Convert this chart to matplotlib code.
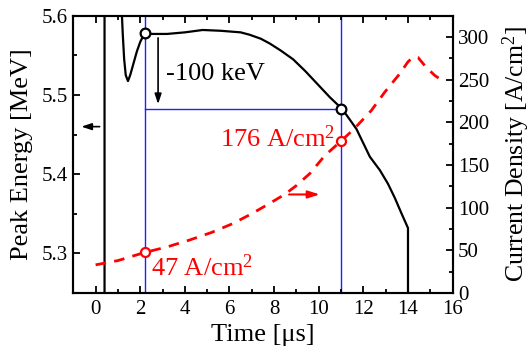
import matplotlib
matplotlib.use("Agg")
import matplotlib.pyplot as plt
from matplotlib.ticker import MultipleLocator

plt.rcParams['font.family'] = ['Liberation Serif', 'DejaVu Serif']
plt.rcParams['mathtext.fontset'] = 'custom'
plt.rcParams['mathtext.rm'] = 'Liberation Serif'
plt.rcParams['mathtext.it'] = 'Liberation Serif:italic'

# Peak energy (left axis)
t_energy = [0.40, 0.40, 0.8, 1.15, 1.18, 1.22, 1.28, 1.35, 1.45, 1.55, 1.70, 1.85, 2.00, 2.20,
            2.5, 3.2, 4.0, 4.8, 5.6, 6.5, 6.9, 7.4, 7.8, 8.3, 8.85, 9.4, 10.0, 10.5, 11.06,
            11.69, 12.29, 12.74, 13.1, 13.41, 13.7, 14.0, 14.0]
energy = [5.20, 5.70, 5.75, 5.65, 5.600, 5.575, 5.545, 5.525, 5.5175, 5.525, 5.540, 5.555, 5.567, 5.578,
          5.577, 5.577, 5.579, 5.582, 5.581, 5.579, 5.576, 5.571, 5.565, 5.556, 5.545, 5.530, 5.512, 5.497, 5.482,
          5.457, 5.422, 5.405, 5.388, 5.370, 5.351, 5.332, 5.20]

# Current density (right axis)
t_current = [0.0, 1.0, 2.2, 3.2, 4.2, 5.2, 6.16, 7.0, 7.8, 8.5, 9.0, 9.6, 10.27, 11.02,
             11.6, 12.36, 12.96, 13.63, 14.0, 14.23, 14.45, 14.8, 15.2, 15.65]
current = [33, 38, 47.5, 54, 62, 71, 81.5, 93, 105, 116, 126, 140, 161, 178.6,
           192.7, 214, 235.5, 257, 271, 276.5, 276, 265, 255, 247]

mark_t = [2.2, 11.0]
mark_energy = [5.578, 5.482]
mark_current = [47.5, 178.6]
level_energy = 5.482

fig = plt.figure(figsize=(5.30, 3.54), dpi=100)
ax = fig.add_axes([0.1383, 0.1723, 0.7157, 0.7833])
ax2 = ax.twinx()

blue = '#1f1fff'
for t in mark_t:
    ax.axvline(t, color=blue, lw=1.0, zorder=1)
ax.plot([mark_t[0], mark_t[1]], [level_energy, level_energy], color=blue, lw=1.0, zorder=1)

ax.plot(t_energy, energy, color='black', lw=1.6, zorder=3)
ax.plot(mark_t, mark_energy, 'o', ms=7, mfc='white', mec='black', mew=1.6, zorder=4)

ax2.plot(t_current, current, color='red', lw=2.0, dashes=(3.8, 3.0), zorder=3)
ax2.plot(mark_t, mark_current, 'o', ms=6.5, mfc='white', mec='red', mew=1.6, zorder=4)

ax.set_xlim(-1, 16)
ax.set_ylim(5.25, 5.6)
ax2.set_ylim(0, 325)

# arrows
ax.annotate('', xy=(2.8, 5.4884), xytext=(2.8, 5.572),
            arrowprops=dict(arrowstyle='-|>,head_length=0.6,head_width=0.2', color='black', lw=1.2,
                            shrinkA=0, shrinkB=0))
ax.annotate('', xy=(-0.64, 5.46), xytext=(0.18, 5.46),
            arrowprops=dict(arrowstyle='-|>,head_length=0.6,head_width=0.2', color='black', lw=1.2,
                            shrinkA=0, shrinkB=0))
ax2.annotate('', xy=(10.05, 115.5), xytext=(8.67, 115.5),
             arrowprops=dict(arrowstyle='-|>,head_length=0.7,head_width=0.22', color='red', lw=1.5,
                             shrinkA=0, shrinkB=0))

ax.text(3.15, 5.526, '-100 keV', fontsize=19, ha='left', va='center', color='black')
ax.text(5.56, 5.435, '176 A/cm$^2$', fontsize=19, ha='left', va='baseline', color='red')
ax.text(2.47, 5.272, '47 A/cm$^2$', fontsize=19, ha='left', va='baseline', color='red')

ax.xaxis.set_major_locator(MultipleLocator(2))
ax.xaxis.set_minor_locator(MultipleLocator(1))
ax.yaxis.set_major_locator(MultipleLocator(0.1))
ax.yaxis.set_minor_locator(MultipleLocator(0.05))
ax2.yaxis.set_major_locator(MultipleLocator(50))
ax2.yaxis.set_minor_locator(MultipleLocator(25))

ax.tick_params(axis='both', which='both', direction='in', top=True, right=False, labelsize=15)
ax.tick_params(axis='both', which='major', length=5, width=1.3)
ax.tick_params(axis='both', which='minor', length=3, width=1.3)
ax.tick_params(axis='x', pad=5)
ax.tick_params(axis='y', pad=4)
ax2.tick_params(axis='y', which='both', direction='in', labelsize=15, pad=4)
ax2.tick_params(axis='y', which='major', length=5, width=1.3)
ax2.tick_params(axis='y', which='minor', length=3, width=1.3)

for a in (ax, ax2):
    for s in a.spines.values():
        s.set_linewidth(1.5)

ax.set_xlabel('Time [\u03bcs]', fontsize=19)
ax.set_ylabel('Peak Energy [MeV]', fontsize=19)
ax2.set_ylabel('Current Density [A/cm$^2$]', fontsize=18.5)
ax.xaxis.set_label_coords(0.5, -0.11)
ax.yaxis.set_label_coords(-0.105, 0.5)
ax2.yaxis.set_label_coords(1.125, 0.5)

fig.savefig('out.png', dpi=100)
